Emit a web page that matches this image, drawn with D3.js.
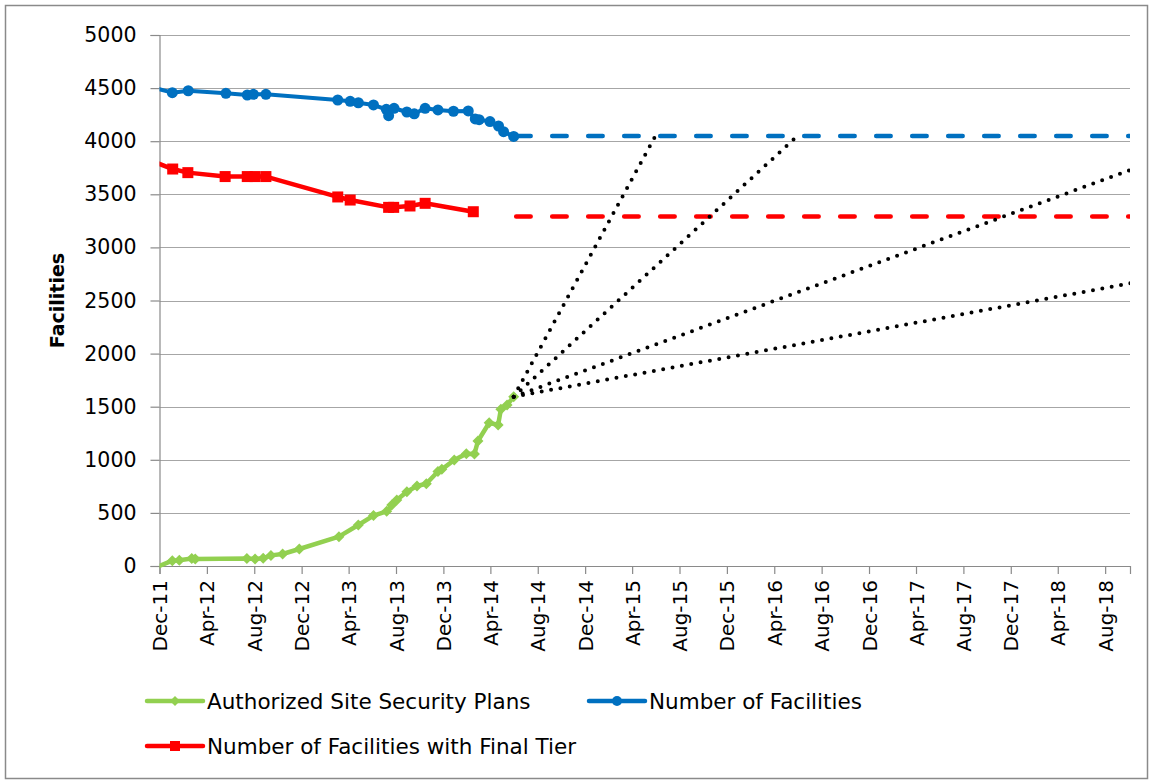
<!DOCTYPE html>
<html>
<head>
<meta charset="utf-8">
<script src="https://cdn.jsdelivr.net/npm/d3@7"></script>
<style>
  html, body { margin: 0; padding: 0; background: #fff; }
  svg { display: block; }
  text { font-family: "DejaVu Sans", sans-serif; fill: #000; }
</style>
</head>
<body>
<svg id="chart" width="1153" height="784"></svg>
<script>
// ---------------- DATA ----------------
const xTickLabels = ["Dec-11","Apr-12","Aug-12","Dec-12","Apr-13","Aug-13","Dec-13","Apr-14","Aug-14",
  "Dec-14","Apr-15","Aug-15","Dec-15","Apr-16","Aug-16","Dec-16","Apr-17","Aug-17","Dec-17","Apr-18","Aug-18"];
const yTicks = [0, 500, 1000, 1500, 2000, 2500, 3000, 3500, 4000, 4500, 5000];
const axisRange = ["2011-12-01", "2018-10-04"];

// Authorized Site Security Plans
const ssp = [
  ["2011-11-10", -30], ["2012-01-03", 50], ["2012-01-21", 55], ["2012-02-22", 70], ["2012-03-02", 65],
  ["2012-07-13", 70], ["2012-08-03", 65], ["2012-08-24", 72], ["2012-09-13", 100], ["2012-10-13", 113],
  ["2012-11-25", 160], ["2013-03-07", 276], ["2013-04-26", 386], ["2013-06-04", 475], ["2013-07-08", 515],
  ["2013-07-21", 574], ["2013-08-03", 621], ["2013-08-29", 700], ["2013-09-24", 753], ["2013-10-18", 775],
  ["2013-11-17", 890], ["2013-11-27", 910], ["2013-12-29", 998], ["2014-01-29", 1058], ["2014-02-19", 1055],
  ["2014-02-28", 1177], ["2014-03-29", 1349], ["2014-04-21", 1328], ["2014-04-28", 1475], ["2014-05-14", 1516],
  ["2014-05-31", 1594]
];
// Number of Facilities
const facilities = [
  ["2011-11-10", 4510], ["2012-01-03", 4457], ["2012-02-13", 4475], ["2012-05-20", 4451], ["2012-07-14", 4435],
  ["2012-07-30", 4441], ["2012-08-31", 4441], ["2013-03-04", 4388], ["2013-04-05", 4376], ["2013-04-26", 4362],
  ["2013-06-04", 4341], ["2013-07-07", 4300], ["2013-07-13", 4240], ["2013-07-27", 4310], ["2013-08-29", 4275],
  ["2013-09-17", 4258], ["2013-10-15", 4310], ["2013-11-17", 4294], ["2013-12-27", 4282], ["2014-02-03", 4285],
  ["2014-02-21", 4210], ["2014-03-03", 4203], ["2014-03-31", 4185], ["2014-04-22", 4143], ["2014-05-05", 4090],
  ["2014-05-31", 4045]
];
// Number of Facilities with Final Tier
const finalTier = [
  ["2011-11-10", 3815], ["2012-01-04", 3738], ["2012-02-12", 3704], ["2012-05-18", 3667], ["2012-07-14", 3667],
  ["2012-08-03", 3667], ["2012-08-31", 3667], ["2013-03-04", 3475], ["2013-04-05", 3446], ["2013-07-13", 3377],
  ["2013-07-26", 3377], ["2013-09-06", 3390], ["2013-10-15", 3415], ["2014-02-16", 3336]
];
// Dashed projections (plateaus)
const facilitiesProjection = [["2014-05-31", 4050], ["2018-10-04", 4050]];
const finalTierProjection = [["2014-05-31", 3290], ["2018-10-04", 3290]];
// Dotted SSP projections: reaching 4050 facilities in 1, 2, 5 and 10 years
const sspProjections = [
  [["2014-05-31", 1594], ["2015-05-31", 4050]],
  [["2014-05-31", 1594], ["2016-05-31", 4050]],
  [["2014-05-31", 1594], ["2019-05-31", 4050]],
  [["2014-05-31", 1594], ["2024-05-31", 4050]]
];
const seriesNames = ["Authorized Site Security Plans", "Number of Facilities", "Number of Facilities with Final Tier"];
const colors = { green: "#92D050", blue: "#0070C0", red: "#FF0000" };

// ---------------- CHART ----------------
const parseDate = d3.timeParse("%Y-%m-%d");
const parseTick = d3.timeParse("%b-%y");
const svg = d3.select("#chart");

const plot = { left: 159.5, right: 1130, top: 35, bottom: 566 };
const x = d3.scaleTime().domain(axisRange.map(parseDate)).range([plot.left, plot.right]);
const y = d3.scaleLinear().domain([0, 5000]).range([plot.bottom, plot.top]);

// outer frame
svg.append("rect").attr("x", 5.5).attr("y", 5.5).attr("width", 1142).attr("height", 773)
  .attr("fill", "#fff").attr("stroke", "#8a8a8a").attr("stroke-width", 1.5);

// gridlines
svg.append("g").selectAll("line").data(yTicks.filter(v => v > 0)).join("line")
  .attr("x1", plot.left).attr("x2", plot.right)
  .attr("y1", d => Math.round(y(d)) + 0.5).attr("y2", d => Math.round(y(d)) + 0.5)
  .attr("stroke", "#a6a6a6").attr("stroke-width", 1.2);

// y axis
const yAxis = d3.axisLeft(y).tickValues(yTicks).tickSize(9).tickPadding(14).tickFormat(d3.format("d"));
const gy = svg.append("g").attr("transform", `translate(${plot.left},0)`).call(yAxis);
gy.select(".domain").attr("stroke", "#8a8a8a").attr("stroke-width", 1.2);
gy.selectAll(".tick line").attr("stroke", "#8a8a8a").attr("stroke-width", 1.2);
gy.selectAll(".tick text").style("font-size", "20.5px").style("font-family", "DejaVu Sans");

// x axis
const tickDates = xTickLabels.map(parseTick);
const xAxis = d3.axisBottom(x).tickValues(tickDates).tickSize(8).tickFormat((d, i) => xTickLabels[i]);
const gx = svg.append("g").attr("transform", `translate(0,${plot.bottom})`).call(xAxis);
gx.select(".domain").attr("stroke", "#8a8a8a").attr("stroke-width", 1.2);
gx.selectAll(".tick line").attr("stroke", "#8a8a8a").attr("stroke-width", 1.2);
gx.selectAll(".tick text")
  .style("font-size", "20px").style("font-family", "DejaVu Sans")
  .attr("text-anchor", "end").attr("dy", "0.35em")
  .attr("transform", "translate(0,14) rotate(-90)")
  .attr("x", 0).attr("y", 0);

// y title
svg.append("text").attr("transform", `translate(64,${(plot.top + plot.bottom) / 2}) rotate(-90)`)
  .attr("text-anchor", "middle").style("font-size", "19px").style("font-weight", "bold")
  .text("Facilities");

// clip
svg.append("clipPath").attr("id", "clip").append("rect")
  .attr("x", plot.left).attr("y", 0).attr("width", plot.right - plot.left).attr("height", 784);
const g = svg.append("g").attr("clip-path", "url(#clip)");

const line = d3.line().x(d => x(parseDate(d[0]))).y(d => y(d[1]));
const diamond = r => `M0,${-r}L${r},0L0,${r}L${-r},0Z`;

// SSP (green)
g.append("path").datum(ssp).attr("d", line).attr("fill", "none")
  .attr("stroke", colors.green).attr("stroke-width", 4.5).attr("stroke-linejoin", "round");
g.append("g").selectAll("path").data(ssp).join("path")
  .attr("transform", d => `translate(${x(parseDate(d[0]))},${y(d[1])})`)
  .attr("d", diamond(5.5)).attr("fill", colors.green);

// Facilities (blue)
g.append("path").datum(facilities).attr("d", line).attr("fill", "none")
  .attr("stroke", colors.blue).attr("stroke-width", 4).attr("stroke-linejoin", "round");
g.append("g").selectAll("circle").data(facilities).join("circle")
  .attr("cx", d => x(parseDate(d[0]))).attr("cy", d => y(d[1])).attr("r", 5.5).attr("fill", colors.blue);

// Final tier (red)
g.append("path").datum(finalTier).attr("d", line).attr("fill", "none")
  .attr("stroke", colors.red).attr("stroke-width", 4.5).attr("stroke-linejoin", "round");
g.append("g").selectAll("rect").data(finalTier).join("rect")
  .attr("x", d => x(parseDate(d[0])) - 5.5).attr("y", d => y(d[1]) - 5.5)
  .attr("width", 11).attr("height", 11).attr("fill", colors.red);

// dashed projections
g.append("path").datum(facilitiesProjection).attr("d", line).attr("fill", "none")
  .attr("stroke", colors.blue).attr("stroke-width", 4.5).attr("stroke-linecap", "round")
  .attr("stroke-dasharray", "14.5,21.5").attr("stroke-dashoffset", -2.5);
g.append("path").datum(finalTierProjection).attr("d", line).attr("fill", "none")
  .attr("stroke", colors.red).attr("stroke-width", 4.5).attr("stroke-linecap", "round")
  .attr("stroke-dasharray", "14.5,21.5").attr("stroke-dashoffset", -2.5);

// dotted SSP projections
g.append("g").selectAll("path").data(sspProjections).join("path")
  .attr("d", line).attr("fill", "none").attr("stroke", "#000")
  .attr("stroke-width", 4).attr("stroke-linecap", "round").attr("stroke-dasharray", "0,9.5");

// legend
const legendItems = [
  { name: seriesNames[0], color: colors.green, shape: "diamond", lx: 147, ly: 701 },
  { name: seriesNames[1], color: colors.blue, shape: "circle", lx: 589, ly: 701 },
  { name: seriesNames[2], color: colors.red, shape: "square", lx: 147, ly: 746 }
];
const lg = svg.append("g").selectAll("g").data(legendItems).join("g")
  .attr("transform", d => `translate(${d.lx},${d.ly})`);
lg.append("line").attr("x1", 0).attr("x2", 56).attr("y1", 0).attr("y2", 0)
  .attr("stroke", d => d.color).attr("stroke-width", 4.5).attr("stroke-linecap", "round");
lg.each(function(d) {
  const s = d3.select(this);
  if (d.shape === "diamond") s.append("path").attr("transform", "translate(28,0)").attr("d", diamond(5)).attr("fill", d.color);
  if (d.shape === "circle") s.append("circle").attr("cx", 28).attr("cy", 0).attr("r", 5).attr("fill", d.color);
  if (d.shape === "square") s.append("rect").attr("x", 23).attr("y", -5).attr("width", 10).attr("height", 10).attr("fill", d.color);
});
lg.append("text").attr("x", 60).attr("y", 0).attr("dy", "0.35em")
  .style("font-size", "21.5px").text(d => d.name);
</script>
</body>
</html>
